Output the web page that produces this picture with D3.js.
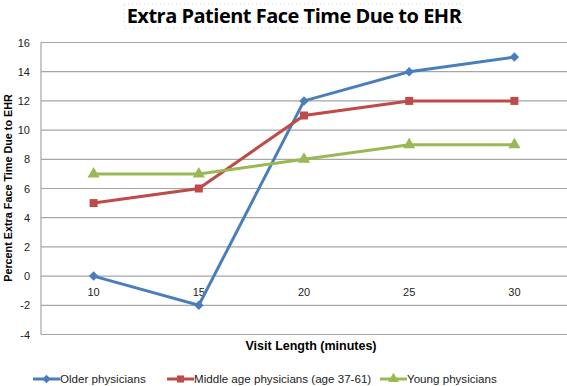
<!DOCTYPE html>
<html>
<head>
<meta charset="utf-8">
<script src="https://cdn.jsdelivr.net/npm/d3@7"></script>
<style>
  body { margin: 0; background: #fff; }
  svg { display: block; }
</style>
</head>
<body>
<svg width="567" height="386"></svg>
<script>
// data
const visitLengths = [10, 15, 20, 25, 30];
const olderPhys = [0, -2, 12, 14, 15];
const middlePhys = [5, 6, 11, 12, 12];
const youngPhys = [7, 7, 8, 9, 9];
const yTicks = [-4, -2, 0, 2, 4, 6, 8, 10, 12, 14, 16];

const seriesNames = ['Older physicians', 'Middle age physicians (age 37-61)', 'Young physicians'];
const seriesVals = [olderPhys, middlePhys, youngPhys];
const colors = ['#4a7ebb', '#be4b48', '#98b954'];
const shapes = [d3.symbolSquare, d3.symbolSquare, d3.symbolTriangle];
const rot = [45, 0, 0];

const svg = d3.select('svg');
const font = 'Liberation Sans, Arial, sans-serif';

const plot = { left: 41, right: 567, top: 42.5, bottom: 334.5 };

const x = d3.scaleBand()
    .domain(visitLengths)
    .range([plot.left, plot.right]);
const y = d3.scaleLinear()
    .domain([-4, 16])
    .range([plot.bottom, plot.top]);

// title
svg.append('rect')
    .attr('x', 124).attr('y', 4)
    .attr('width', 339).attr('height', 24)
    .attr('fill', 'none')
    .attr('stroke', '#b4c6e0')
    .attr('stroke-width', 0.8)
    .attr('stroke-dasharray', '1,3');
svg.append('text')
    .attr('x', 294).attr('y', 23)
    .attr('text-anchor', 'middle')
    .attr('font-family', 'Open Sans, Lato, sans-serif')
    .attr('font-weight', 700)
    .attr('font-size', 20)
    .attr('letter-spacing', -0.5)
    .text('Extra Patient Face Time Due to EHR');

// gridlines
svg.append('g')
    .selectAll('line')
    .data(yTicks)
    .enter()
    .append('line')
    .attr('x1', plot.left).attr('x2', plot.right)
    .attr('y1', d => y(d)).attr('y2', d => y(d))
    .attr('stroke', '#a6a6a6')
    .attr('stroke-width', 1.2);

// y axis line
svg.append('line')
    .attr('x1', plot.left).attr('x2', plot.left)
    .attr('y1', plot.top).attr('y2', plot.bottom)
    .attr('stroke', '#a6a6a6')
    .attr('stroke-width', 1.2);

// y tick labels
svg.append('g')
    .selectAll('text')
    .data(yTicks)
    .enter()
    .append('text')
    .attr('x', 30)
    .attr('y', d => y(d) + 4)
    .attr('text-anchor', 'end')
    .attr('font-family', font)
    .attr('font-size', 11)
    .attr('fill', '#222')
    .text(d => d);

// x tick labels, sitting under the zero line
svg.append('g')
    .selectAll('text')
    .data(visitLengths)
    .enter()
    .append('text')
    .attr('x', d => x(d) + x.bandwidth() / 2)
    .attr('y', y(0) + 20)
    .attr('text-anchor', 'middle')
    .attr('font-family', font)
    .attr('font-size', 11)
    .attr('fill', '#222')
    .text(d => d);

// axis titles
svg.append('text')
    .attr('x', 311).attr('y', 350)
    .attr('text-anchor', 'middle')
    .attr('font-family', font)
    .attr('font-weight', 700)
    .attr('font-size', 12.5)
    .text('Visit Length (minutes)');
svg.append('text')
    .attr('transform', 'translate(12,188) rotate(-90)')
    .attr('text-anchor', 'middle')
    .attr('font-family', font)
    .attr('font-weight', 700)
    .attr('font-size', 10.8)
    .text('Percent Extra Face Time Due to EHR');

// lines and markers
const line = d3.line()
    .x((d, i) => x(visitLengths[i]) + x.bandwidth() / 2)
    .y(d => y(d));

seriesVals.forEach((vals, s) => {
    const g = svg.append('g');
    g.append('path')
        .datum(vals)
        .attr('d', line)
        .attr('fill', 'none')
        .attr('stroke', colors[s])
        .attr('stroke-width', 3);
    g.selectAll('path.mk')
        .data(vals)
        .enter()
        .append('path')
        .attr('class', 'mk')
        .attr('d', d3.symbol().type(shapes[s]).size(s === 0 ? 45 : 64))
        .attr('transform', (d, i) => 'translate(' + (x(visitLengths[i]) + x.bandwidth() / 2) + ',' + y(d) + ') rotate(' + rot[s] + ')')
        .attr('fill', colors[s]);
});

// legend
const legX = [33, 167, 380];
const legend = svg.append('g');
seriesNames.forEach((name, s) => {
    legend.append('line')
        .attr('x1', legX[s]).attr('x2', legX[s] + 27)
        .attr('y1', 379).attr('y2', 379)
        .attr('stroke', colors[s])
        .attr('stroke-width', 3);
    legend.append('path')
        .attr('d', d3.symbol().type(shapes[s]).size(s === 0 ? 36 : 50))
        .attr('transform', 'translate(' + (legX[s] + 13.5) + ',379) rotate(' + rot[s] + ')')
        .attr('fill', colors[s]);
    legend.append('text')
        .attr('x', legX[s] + 27)
        .attr('y', 383)
        .attr('font-family', font)
        .attr('font-size', 11.6)
        .attr('fill', '#222')
        .text(name);
});
</script>
</body>
</html>
